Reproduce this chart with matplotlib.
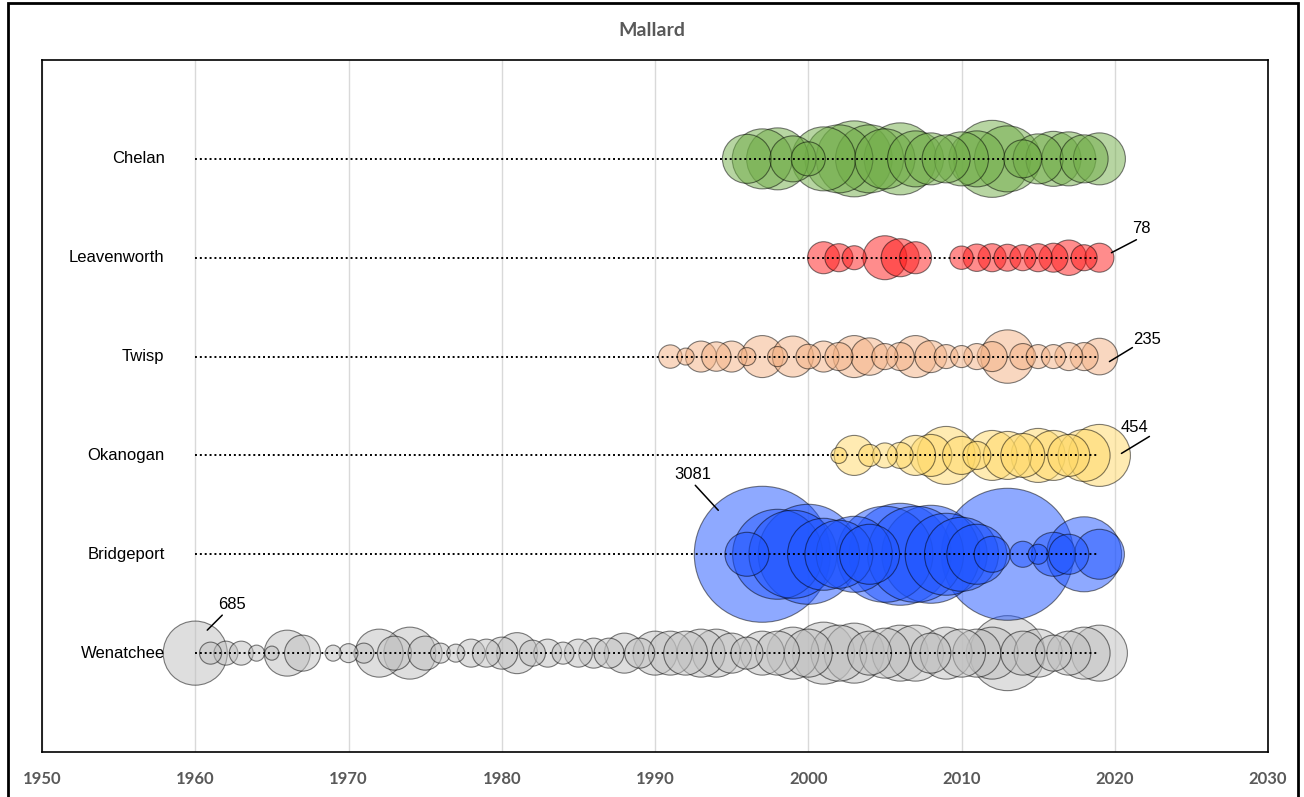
import matplotlib
matplotlib.use("Agg")
import matplotlib.pyplot as plt
from matplotlib.transforms import offset_copy
from matplotlib.patches import Rectangle
import numpy as np

# rows, bottom to top
sites = ["Wenatchee", "Bridgeport", "Okanogan", "Twisp", "Leavenworth", "Chelan"]
colors = ["#BFBFBF", "#1F55FF", "#FFD966", "#F4B183", "#FF1A1A", "#70AD47"]

wen_years = [1960, 1961, 1962, 1963, 1964, 1965, 1966, 1967, 1969, 1970, 1971, 1972, 1973, 1974,
             1975, 1976, 1977, 1978, 1979, 1980, 1981, 1982, 1983, 1984, 1985, 1986, 1987, 1988,
             1989, 1990, 1991, 1992, 1993, 1994, 1995, 1996, 1997, 1998, 1999, 2000, 2001, 2002,
             2003, 2004, 2005, 2006, 2007, 2008, 2009, 2010, 2011, 2012, 2013, 2014, 2015, 2016,
             2017, 2018, 2019]
wen_counts = [685, 81, 96, 96, 43, 33, 352, 216, 43, 60, 67, 384, 193, 450,
              193, 67, 54, 131, 131, 171, 280, 113, 131, 81, 131, 150, 150, 267,
              150, 322, 322, 322, 384, 384, 267, 171, 322, 322, 450, 384, 640, 522,
              600, 322, 416, 522, 522, 267, 450, 384, 384, 450, 937, 322, 384, 216,
              322, 450, 522]

bri_years = list(range(1996, 2020))
bri_counts = [322, 3081, 1349, 1290, 1666, 864, 770, 962, 600, 1535, 1733, 1535, 1600, 1120,
              912, 600, 216, 2903, 113, 67, 322, 267, 937, 416]

oka_years = list(range(2002, 2020))
oka_counts = [43, 267, 81, 104, 113, 267, 294, 560, 241, 131, 416, 384, 322, 486, 416, 294, 450, 640]

twi_years = list(range(1991, 2020))
twi_counts = [91, 48, 160, 144, 160, 54, 294, 67, 280, 101, 160, 131, 294, 233, 113, 131, 294,
              171, 96, 81, 113, 150, 475, 113, 96, 96, 131, 131, 223]

lea_years = [2001, 2002, 2003, 2005, 2006, 2007, 2010, 2011, 2012, 2013, 2014, 2015, 2016, 2017, 2018, 2019]
lea_counts = [171, 131, 96, 322, 241, 171, 91, 125, 131, 121, 113, 131, 140, 209, 113, 140]

che_years = list(range(1996, 2020))
che_counts = [400, 600, 640, 352, 193, 682, 770, 962, 770, 600, 864, 522, 450, 384, 486, 522,
              988, 726, 240, 416, 504, 486, 384, 450]

all_years = [wen_years, bri_years, oka_years, twi_years, lea_years, che_years]
all_counts = [wen_counts, bri_counts, oka_counts, twi_counts, lea_counts, che_counts]

line_start, line_end = 1960, 2019

# data labels: row index, year, text, leader inner/outer end and text centre (px offsets, y up)
labels = [
    (0, 1960, "685", (12, 23), (27, 38), (37, 49)),
    (1, 1997, "3081", (-44, 44), (-67, 69), (-69, 80)),
    (2, 2019, "454", (22, 2), (50, 19), (35, 28)),
    (3, 2019, "235", (10, -5), (33, 9), (48, 17)),
    (4, 2019, "78", (12, 5), (37, 18), (42, 29)),
]

DPI = 100
fig = plt.figure(figsize=(13.04, 7.97), dpi=DPI)
ax = fig.add_axes([42 / 1304, 45 / 797, 1226 / 1304, 692 / 797])

vmax = max(max(c) for c in all_counts)
max_d_pt = 136 * 72 / DPI

for i, (yrs, cnt) in enumerate(zip(all_years, all_counts)):
    yrs = np.array(yrs)
    cnt = np.array(cnt, dtype=float)
    order = np.argsort(-cnt)
    s = max_d_pt ** 2 * cnt[order] / vmax
    ax.scatter(yrs[order], np.full(len(order), i + 1), s=s, c=colors[i], alpha=0.5,
               edgecolors=(0, 0, 0, 0.7), linewidths=0.8, zorder=2 + i * 0.1)
    ax.plot([line_start, line_end], [i + 1, i + 1], color="black", ls=(0, (1, 1.5)),
            lw=1.4, zorder=5)
    ax.text(1958, i + 1, sites[i], ha="right", va="center", fontsize=12,
            family="Liberation Sans", color="black", zorder=6)

for row, yr, txt, p_in, p_out, p_txt in labels:
    t_in = offset_copy(ax.transData, fig=fig, x=p_in[0] * 0.72, y=p_in[1] * 0.72, units="points")
    ax.annotate("", xy=(yr, row + 1), xycoords=t_in,
                xytext=((p_out[0] - p_in[0]) * 0.72, (p_out[1] - p_in[1]) * 0.72),
                textcoords="offset points",
                arrowprops=dict(arrowstyle="-", color="black", lw=1.1, shrinkA=0, shrinkB=0),
                zorder=6)
    ax.annotate(txt, xy=(yr, row + 1), xytext=(p_txt[0] * 0.72, p_txt[1] * 0.72),
                textcoords="offset points", ha="center", va="center", fontsize=12,
                family="Liberation Sans", zorder=6)

ax.set_xlim(1950, 2030)
ax.set_ylim(0, 7)
ax.set_xticks(np.arange(1950, 2031, 10))
ax.set_yticks([])
ax.grid(axis="x", color="#D9D9D9", lw=1, zorder=0)
ax.set_axisbelow(True)
for sp in ax.spines.values():
    sp.set_color("black")
    sp.set_linewidth(1.2)
ax.tick_params(axis="x", length=0, pad=14, labelsize=12, labelcolor="#595959")
for lab in ax.get_xticklabels():
    lab.set_family("Lato")
    lab.set_fontweight("bold")

fig.text(0.5, 1 - 30 / 797, "Mallard", ha="center", va="center", fontsize=14,
         fontweight="bold", color="#595959", family="Lato")

# outer chart border
fig.patches.append(Rectangle((8 / 1304, -0.05), 1290 / 1304, 1.05 - 3 / 797,
                             transform=fig.transFigure, fill=False, edgecolor="black",
                             lw=2, zorder=10))

fig.savefig("out.png", dpi=DPI)
